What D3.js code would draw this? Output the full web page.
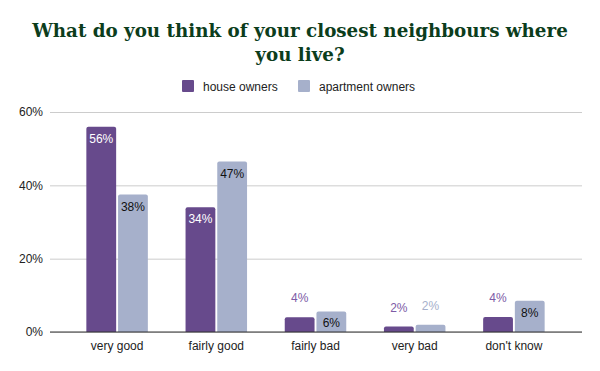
<!DOCTYPE html>
<html>
<head>
<meta charset="utf-8">
<script src="https://cdn.jsdelivr.net/npm/d3@7"></script>
<style>
  body { margin: 0; background: #fff; }
  svg { display: block; }
</style>
</head>
<body>
<div id="main"></div>
<script>
// chart data
const categories = ["very good", "fairly good", "fairly bad", "very bad", "don't know"];
const seriesNames = ["house owners", "apartment owners"];
const houseOwners = [56, 34, 4, 1.5, 4.1];
const apartmentOwners = [37.5, 46.5, 5.6, 2, 8.5];
const valueLabels = [["56%", "34%", "4%", "2%", "4%"], ["38%", "47%", "6%", "2%", "8%"]];
const yTicks = [0, 20, 40, 60];

const width = 600, height = 371;
const colors = ["#674a8c", "#a6b0cb"];
const outsideLabelColors = ["#7d5ba6", "#a6b0cb"];
const insideLabelColors = ["#ffffff", "#111111"];

const svg = d3.select("#main").append("svg")
    .attr("width", width)
    .attr("height", height);

// title
const title = svg.append("text")
    .attr("text-anchor", "middle")
    .style("font-family", "'DejaVu Serif', Georgia, serif")
    .style("font-weight", "bold")
    .style("font-size", "18.3px")
    .attr("fill", "#0c3d1c");
title.append("tspan").attr("x", 300).attr("y", 37).text("What do you think of your closest neighbours where");
title.append("tspan").attr("x", 300).attr("y", 61).text("you live?");

// legend
const legendX = [182, 298];
seriesNames.forEach((name, i) => {
    svg.append("rect")
        .attr("x", legendX[i]).attr("y", 80)
        .attr("width", 12).attr("height", 12)
        .attr("rx", 1)
        .attr("fill", colors[i]);
    svg.append("text")
        .attr("x", legendX[i] + 21).attr("y", 90.5)
        .style("font-family", "'Liberation Sans', Arial, sans-serif")
        .style("font-size", "12px")
        .attr("fill", "#222")
        .text(name);
});

// scales
const y = d3.scaleLinear().domain([0, 60]).range([332, 112]);
const x = d3.scaleBand().domain(categories).range([67.5, 563.5]).paddingInner(0.38).paddingOuter(0.19);
const xs = d3.scaleBand().domain([0, 1]).range([0, x.bandwidth()]).paddingInner(0.06);

// gridlines + y axis labels
const yAxis = svg.append("g")
    .attr("transform", "translate(50,0)")
    .call(d3.axisLeft(y).tickValues(yTicks).tickSize(-532).tickFormat(d => d + "%"));
yAxis.select(".domain").remove();
yAxis.selectAll(".tick line").attr("stroke", "#cccccc");
yAxis.selectAll(".tick text")
    .attr("x", -7)
    .style("font-family", "'Liberation Sans', Arial, sans-serif")
    .style("font-size", "12px")
    .attr("fill", "#222");

// bars
const data = [houseOwners, apartmentOwners];
const groups = svg.selectAll(".cat")
    .data(categories)
    .enter().append("g")
    .attr("transform", d => "translate(" + x(d) + ",0)");

groups.each(function(cat, ci) {
    const g = d3.select(this);
    data.forEach((series, si) => {
        const v = series[ci];
        const top = y(v);
        const h = y(0) - top;
        g.append("path")
            .attr("d", () => {
                const bx = xs(si), bw = xs.bandwidth(), r = Math.min(2, h / 2);
                return "M" + bx + "," + y(0) + "V" + (top + r) + "Q" + bx + "," + top + " " + (bx + r) + "," + top
                    + "H" + (bx + bw - r) + "Q" + (bx + bw) + "," + top + " " + (bx + bw) + "," + (top + r)
                    + "V" + y(0) + "Z";
            })
            .attr("fill", colors[si]);
        const inside = h > 18;
        g.append("text")
            .attr("x", xs(si) + xs.bandwidth() / 2)
            .attr("y", inside ? top + 16 : top - 15)
            .attr("text-anchor", "middle")
            .style("font-family", "'Liberation Sans', Arial, sans-serif")
            .style("font-size", "12px")
            .attr("fill", inside ? insideLabelColors[si] : outsideLabelColors[si])
            .text(valueLabels[si][ci]);
    });
});

// baseline
svg.append("line")
    .attr("x1", 50).attr("x2", 582)
    .attr("y1", y(0)).attr("y2", y(0))
    .attr("stroke", "#333").attr("stroke-width", 1);

// x axis labels
const xAxis = svg.append("g")
    .attr("transform", "translate(0," + y(0) + ")")
    .call(d3.axisBottom(x).tickSize(0).tickPadding(9));
xAxis.select(".domain").remove();
xAxis.selectAll("text")
    .style("font-family", "'Liberation Sans', Arial, sans-serif")
    .style("font-size", "12px")
    .attr("fill", "#222");
</script>
</body>
</html>
